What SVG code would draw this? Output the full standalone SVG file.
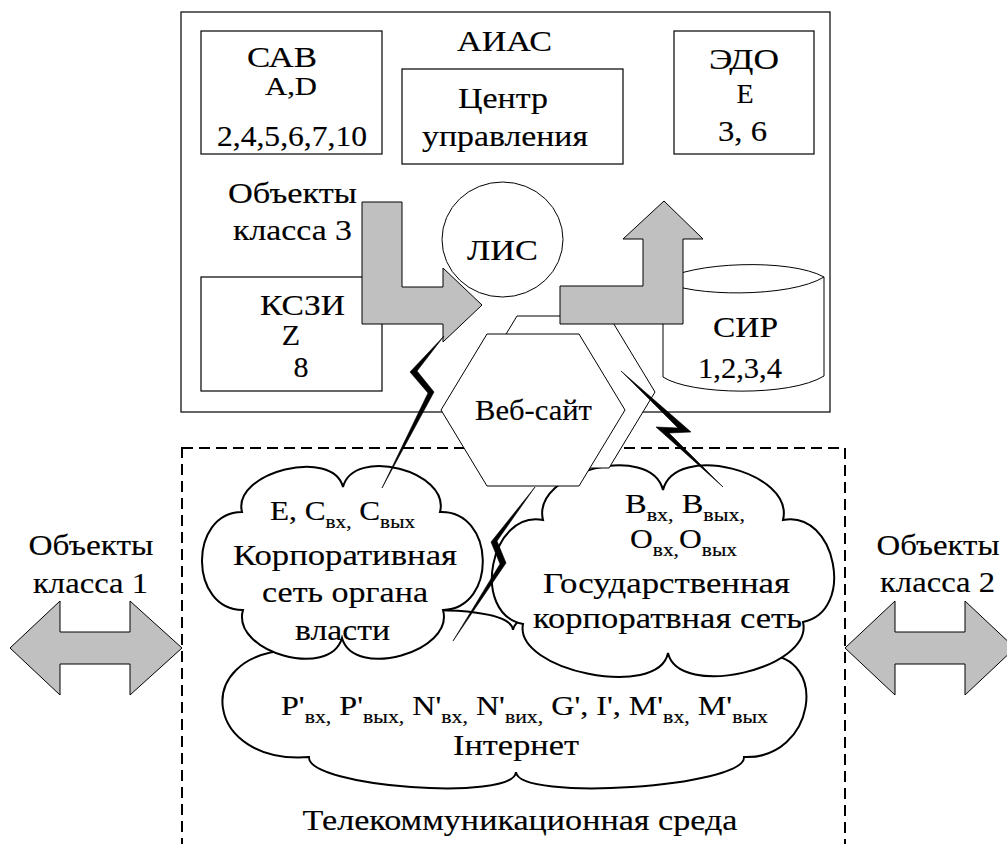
<svg xmlns="http://www.w3.org/2000/svg" width="1007" height="844" viewBox="0 0 1007 844">
<style>
.t{font-family:"Liberation Serif","DejaVu Serif","Times New Roman",serif;fill:#000;stroke:#000;stroke-width:0.15;font-size:30px}
.m{text-anchor:middle}
.s{font-size:19px}
.box{fill:#fff;stroke:#000;stroke-width:1.2}
.cloud{fill:#fff;stroke:#000;stroke-width:2}
.hex{fill:#fff;stroke:#000;stroke-width:1}
.arr{fill:#c0c0c0;stroke:#000;stroke-width:1}
.bolt{fill:#000;stroke:#000;stroke-width:0.6;stroke-linejoin:miter}
</style>
<rect width="1007" height="844" fill="#fff"/>
<g id="aias"><rect class="box" x="181" y="12" width="649" height="400"/><text class="t m" x="504.5" y="51" textLength="95" lengthAdjust="spacingAndGlyphs">АИАС</text></g>
<g id="sav"><rect class="box" x="201" y="31" width="181" height="123"/>
<text class="t m" x="282" y="67" textLength="70" lengthAdjust="spacingAndGlyphs">САВ</text>
<text class="t m" x="291" y="95" style="font-size:26px" textLength="52" lengthAdjust="spacingAndGlyphs">A,D</text>
<text class="t m" x="292" y="146" textLength="150" lengthAdjust="spacingAndGlyphs">2,4,5,6,7,10</text></g>
<g id="centr"><rect class="box" x="402" y="69" width="221" height="95"/>
<text class="t m" x="503" y="108" textLength="90" lengthAdjust="spacingAndGlyphs">Центр</text>
<text class="t m" x="505" y="146" textLength="166" lengthAdjust="spacingAndGlyphs">управления</text></g>
<g id="edo"><rect class="box" x="674" y="31" width="140" height="123"/>
<text class="t m" x="744" y="69" textLength="70" lengthAdjust="spacingAndGlyphs">ЭДО</text>
<text class="t m" x="745" y="103" style="font-size:28px">E</text>
<text class="t m" x="742.5" y="141" textLength="49" lengthAdjust="spacingAndGlyphs">3, 6</text></g>
<g id="kszi"><rect class="box" x="201" y="277" width="181" height="114"/>
<text class="t m" x="302.5" y="315" textLength="85" lengthAdjust="spacingAndGlyphs">КСЗИ</text>
<text class="t m" x="291" y="345">Z</text>
<text class="t m" x="301" y="377">8</text></g>
<g id="obj3"><text class="t m" x="292.5" y="203" textLength="129" lengthAdjust="spacingAndGlyphs">Объекты</text>
<text class="t m" x="292.5" y="240" textLength="119" lengthAdjust="spacingAndGlyphs">класса 3</text></g>
<g id="telecom"><rect x="182" y="448" width="663" height="430" fill="none" stroke="#000" stroke-width="2" stroke-dasharray="11 6"/>
<text class="t m" x="520" y="830" textLength="435" lengthAdjust="spacingAndGlyphs">Телекоммуникационная среда</text></g>
<g id="internet"><path class="cloud" d="M290,650 C287,610 510,595 513,630 C517,590 769,615 765,655 C830,655 815,760 744,757 C746,787 518,802 516,772 C514,802 307,787 309,757 C205,765 190,655 290,650 Z"/></g>
<g id="corp"><path class="cloud" d="M242,512 C232,472 333,447 343,487 C353.5,446 450.5,471 440,512 C495,510 498,608 443,610 C454.7,652 353.7,680 342,638 C330,680 231,652 243,610 C189,610.5 188,512.5 242,512 Z"/></g>
<g id="gov"><path class="cloud" d="M543,520 C531,471.5 651,441.5 663,490 C675,441.5 795,471.5 783,520 C836,509.6 856,611.6 803,622 C813.7,668.8 678.7,699.8 668,653 C658.6,700 513.6,671 523,624 C470,613.8 490,509.8 543,520 Z"/></g>
<g id="lis"><ellipse class="box" cx="502.5" cy="239.5" rx="60.5" ry="57.5" style="stroke-width:1"/>
<text class="t m" x="502.5" y="260" textLength="71" lengthAdjust="spacingAndGlyphs">ЛИС</text></g>
<g id="sir"><path class="box" d="M663,281 C690,262 790,258 824,277 L824,376 C790,397 690,395 663,377 Z" style="stroke-width:1"/>
<path d="M663,281 C690,297 790,298 824,277" fill="none" stroke="#000" stroke-width="1"/>
<text class="t m" x="745.5" y="337" textLength="65" lengthAdjust="spacingAndGlyphs">СИР</text>
<text class="t m" x="740" y="378" textLength="84" lengthAdjust="spacingAndGlyphs">1,2,3,4</text></g>
<g id="website"><path class="hex" d="M517,316 L609,316 L655,392 L609,468 L517,468 L471,392 Z"/>
<path class="hex" d="M487,334 L579,334 L625,410 L579,486 L487,486 L441,410 Z"/>
<text class="t m" x="533.5" y="420" textLength="117" lengthAdjust="spacingAndGlyphs">Веб-сайт</text></g>
<g id="connectors">
<polygon class="arr" points="362,202 402,202 402,287 443,287 443,268 482,305 443,342 443,324 362,324"/>
<polygon class="arr" points="560,286 643,286 643,239 623,239 664,201 703,239 683,239 683,324 560,324"/>
<polygon class="bolt" points="444,336 410,372 428,393 382,488 434,392 417,371"/>
<polygon class="bolt" points="535,487 491,542 500,564 453,641 506,563 497,541"/>
<polygon class="bolt" points="621,371 691,432 669,433 723,487 656,427 678,428"/>
<polygon class="arr" points="10,648 60,601 60,632 130,632 130,601 182,648 130,695 130,664 60,664 60,695"/>
<polygon class="arr" points="845,648 895,601 895,632 965,632 965,601 1015,648 965,695 965,664 895,664 895,695"/>
</g>
<g id="corp-text">
<text class="t" x="270" y="520" style="font-size:28px" textLength="145" lengthAdjust="spacingAndGlyphs">E, C<tspan class="s" dy="8">вх,</tspan><tspan dy="-8"> C</tspan><tspan class="s" dy="8">вых</tspan></text>
<text class="t m" x="345" y="565" textLength="224" lengthAdjust="spacingAndGlyphs">Корпоративная</text>
<text class="t m" x="345" y="602" textLength="166" lengthAdjust="spacingAndGlyphs">сеть органа</text>
<text class="t m" x="342.5" y="640" textLength="95" lengthAdjust="spacingAndGlyphs">власти</text></g>
<g id="gov-text">
<text class="t" x="625" y="513" style="font-size:28px" textLength="120" lengthAdjust="spacingAndGlyphs">B<tspan class="s" dy="8">вх,</tspan><tspan dy="-8"> B</tspan><tspan class="s" dy="8">вых,</tspan></text>
<text class="t" x="630" y="548" style="font-size:28px" textLength="107" lengthAdjust="spacingAndGlyphs">O<tspan class="s" dy="8">вх,</tspan><tspan dy="-8">O</tspan><tspan class="s" dy="8">вых</tspan></text>
<text class="t m" x="666.5" y="593" textLength="247" lengthAdjust="spacingAndGlyphs">Государственная</text>
<text class="t m" x="667.5" y="628" textLength="269" lengthAdjust="spacingAndGlyphs">корпоратвная сеть</text></g>
<g id="internet-text">
<text class="t" x="281" y="715" style="font-size:28px" textLength="487" lengthAdjust="spacingAndGlyphs">P'<tspan class="s" dy="8">вх,</tspan><tspan dy="-8"> P'</tspan><tspan class="s" dy="8">вых,</tspan><tspan dy="-8"> N'</tspan><tspan class="s" dy="8">вх,</tspan><tspan dy="-8"> N'</tspan><tspan class="s" dy="8">вих,</tspan><tspan dy="-8"> G', I', M'</tspan><tspan class="s" dy="8">вх,</tspan><tspan dy="-8"> M'</tspan><tspan class="s" dy="8">вых</tspan></text>
<text class="t m" x="516" y="755" textLength="126" lengthAdjust="spacingAndGlyphs">Інтернет</text></g>
<g id="obj1"><text class="t m" x="91" y="555" textLength="125" lengthAdjust="spacingAndGlyphs">Объекты</text>
<text class="t m" x="90.5" y="593" textLength="115" lengthAdjust="spacingAndGlyphs">класса 1</text></g>
<g id="obj2"><text class="t m" x="938" y="555" textLength="123" lengthAdjust="spacingAndGlyphs">Объекты</text>
<text class="t m" x="937.5" y="592" textLength="115" lengthAdjust="spacingAndGlyphs">класса 2</text></g>
</svg>
